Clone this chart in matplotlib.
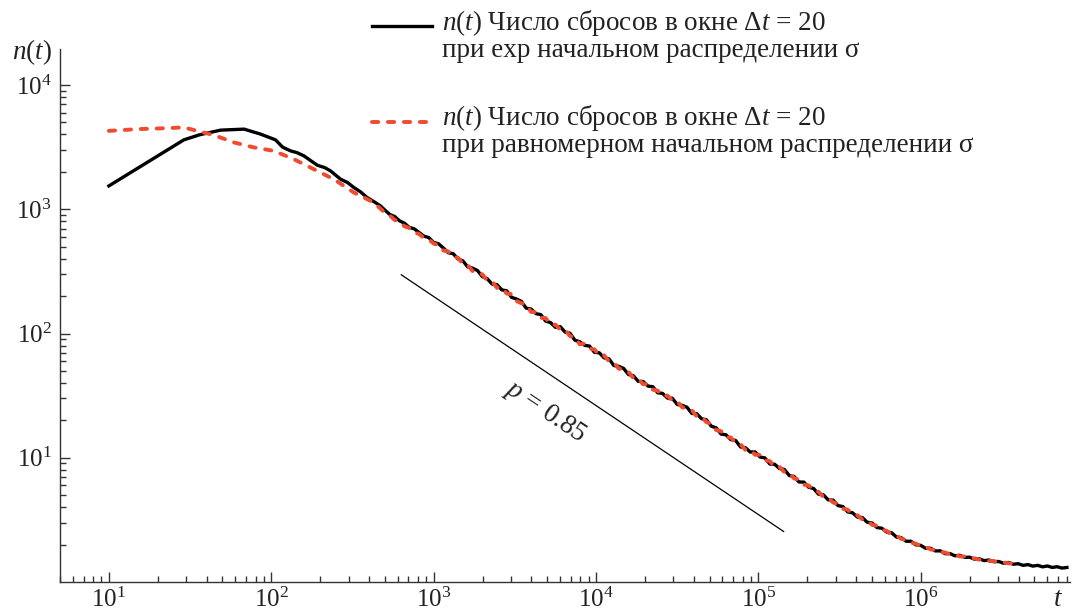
import numpy as np
import matplotlib
matplotlib.use("Agg")
from matplotlib import pyplot as plt
from matplotlib.lines import Line2D
from matplotlib.ticker import FixedLocator, LogLocator, NullFormatter

plt.rcParams['font.family'] = ['Liberation Serif', 'DejaVu Serif']
plt.rcParams['mathtext.fontset'] = 'custom'
plt.rcParams['mathtext.rm'] = 'Liberation Serif'
plt.rcParams['mathtext.it'] = 'Liberation Serif:italic'

FIG_W, FIG_H = 1074, 613
RED = "#EF4B2F"
INK = "#222222"

# log10 t / log10 n(t), early (smooth) part of each run
log_t_black_head = [1.000, 1.462, 1.560, 1.688, 1.833, 1.934, 2.026, 2.070, 2.119, 2.160,
                    2.201, 2.283, 2.330, 2.365, 2.427, 2.470, 2.509, 2.550, 2.591, 2.640, 2.673]
log_n_black_head = [3.188, 3.559, 3.600, 3.637, 3.645, 3.605, 3.559, 3.500, 3.470, 3.455,
                    3.430, 3.355, 3.335, 3.309, 3.242, 3.215, 3.175, 3.140, 3.094, 3.055, 3.027]

log_t_red_head = [1.000, 1.175, 1.360, 1.462, 1.544, 1.647, 1.770, 1.893, 2.016, 2.139,
                  2.242, 2.385, 2.509, 2.632]
log_n_red_head = [3.631, 3.645, 3.653, 3.659, 3.631, 3.597, 3.538, 3.498, 3.470, 3.403,
                  3.336, 3.242, 3.135, 3.054]

# noisy tail, common time grid
log_t_tail = [2.70, 2.73, 2.76, 2.79, 2.82, 2.85, 2.88, 2.91, 2.94, 2.97,
              3.00, 3.03, 3.06, 3.09, 3.12, 3.15, 3.18, 3.21, 3.24, 3.27,
              3.30, 3.33, 3.36, 3.39, 3.42, 3.45, 3.48, 3.51, 3.54, 3.57,
              3.60, 3.63, 3.66, 3.69, 3.72, 3.75, 3.78, 3.81, 3.84, 3.87,
              3.90, 3.93, 3.96, 3.99, 4.02, 4.05, 4.08, 4.11, 4.14, 4.17,
              4.20, 4.23, 4.26, 4.29, 4.32, 4.35, 4.38, 4.41, 4.44, 4.47,
              4.50, 4.53, 4.56, 4.59, 4.62, 4.65, 4.68, 4.71, 4.74, 4.77,
              4.80, 4.83, 4.86, 4.89, 4.92, 4.95, 4.98, 5.01, 5.04, 5.07,
              5.10, 5.13, 5.16, 5.19, 5.22, 5.25, 5.28, 5.31, 5.34, 5.37,
              5.40, 5.43, 5.46, 5.49, 5.52, 5.55, 5.58, 5.61, 5.64, 5.67,
              5.70, 5.73, 5.76, 5.79, 5.82, 5.85, 5.88, 5.91, 5.94, 5.97,
              6.00, 6.03, 6.06, 6.09, 6.12, 6.15, 6.18, 6.21, 6.24, 6.27,
              6.30, 6.33, 6.36, 6.39, 6.42, 6.45, 6.48, 6.51, 6.54, 6.57,
              6.60, 6.63, 6.66, 6.69, 6.72, 6.75, 6.78, 6.81, 6.84, 6.87,
              6.90]

log_n_black_tail = [2.993, 2.958, 2.942, 2.907, 2.888, 2.854, 2.843, 2.813, 2.784, 2.772,
                    2.733, 2.723, 2.688, 2.650, 2.643, 2.600, 2.585, 2.536, 2.526, 2.507,
                    2.458, 2.441, 2.398, 2.393, 2.351, 2.344, 2.291, 2.278, 2.259, 2.204,
                    2.197, 2.160, 2.152, 2.100, 2.088, 2.050, 2.055, 2.011, 2.002, 1.946,
                    1.934, 1.905, 1.899, 1.849, 1.845, 1.804, 1.796, 1.742, 1.736, 1.719,
                    1.670, 1.660, 1.615, 1.614, 1.577, 1.572, 1.523, 1.518, 1.480, 1.479,
                    1.429, 1.422, 1.407, 1.357, 1.355, 1.314, 1.306, 1.254, 1.241, 1.191,
                    1.185, 1.146, 1.139, 1.087, 1.081, 1.046, 1.047, 1.006, 0.999, 0.950,
                    0.948, 0.913, 0.906, 0.857, 0.849, 0.805, 0.804, 0.762, 0.753, 0.707,
                    0.702, 0.661, 0.659, 0.615, 0.607, 0.564, 0.557, 0.522, 0.519, 0.481,
                    0.475, 0.438, 0.433, 0.402, 0.397, 0.362, 0.356, 0.328, 0.328, 0.299,
                    0.295, 0.271, 0.272, 0.250, 0.251, 0.228, 0.229, 0.211, 0.215, 0.198,
                    0.200, 0.184, 0.187, 0.172, 0.177, 0.163, 0.165, 0.151, 0.157, 0.143,
                    0.147, 0.134, 0.140, 0.128, 0.134, 0.122, 0.129, 0.117, 0.123, 0.112,
                    0.117]

log_n_red_tail = [2.972, 2.950, 2.914, 2.898, 2.864, 2.849, 2.814, 2.801, 2.769, 2.758,
                  2.724, 2.711, 2.668, 2.661, 2.617, 2.610, 2.560, 2.551, 2.503, 2.496,
                  2.476, 2.427, 2.420, 2.368, 2.369, 2.322, 2.317, 2.262, 2.244, 2.232,
                  2.174, 2.172, 2.126, 2.124, 2.073, 2.071, 2.032, 2.031, 1.979, 1.968,
                  1.913, 1.919, 1.878, 1.873, 1.823, 1.824, 1.776, 1.767, 1.717, 1.713,
                  1.692, 1.641, 1.638, 1.592, 1.594, 1.548, 1.540, 1.497, 1.500, 1.460,
                  1.455, 1.407, 1.392, 1.383, 1.333, 1.331, 1.286, 1.275, 1.223, 1.214,
                  1.164, 1.163, 1.118, 1.109, 1.064, 1.063, 1.024, 1.024, 0.980, 0.973,
                  0.928, 0.926, 0.885, 0.879, 0.833, 0.826, 0.783, 0.777, 0.735, 0.726,
                  0.685, 0.679, 0.640, 0.629, 0.589, 0.582, 0.544, 0.537, 0.503, 0.494,
                  0.460, 0.453, 0.421, 0.412, 0.382, 0.375, 0.347, 0.340, 0.315, 0.309,
                  0.286, 0.282, 0.262, 0.258, 0.240, 0.238, 0.221, 0.219, 0.206, 0.205,
                  0.192, 0.191, 0.180, 0.179, 0.169, 0.169, 0.159, 0.158, 0.150, 0.149]

# reference power law, p = 0.85
ref_t = [632, 1.43e5]
ref_n = [297, 2.55]

x_major = [1e1, 1e2, 1e3, 1e4, 1e5, 1e6]
y_major = [1e1, 1e2, 1e3, 1e4]

legend_labels = [
    "$n(t)$ Число сбросов в окне $\\Delta t$ = 20\nпри exp начальном распределении σ",
    "$n(t)$ Число сбросов в окне $\\Delta t$ = 20\nпри равномерном начальном распределении σ",
]

t_black = 10 ** np.array(log_t_black_head + log_t_tail)
n_black = 10 ** np.array(log_n_black_head + log_n_black_tail)
t_red = 10 ** np.array(log_t_red_head + log_t_tail[:len(log_n_red_tail)])
n_red = 10 ** np.array(log_n_red_head + log_n_red_tail)


def fx(px):
    return px / FIG_W


def fy(py):
    return 1 - py / FIG_H


fig = plt.figure(figsize=(FIG_W / 100, FIG_H / 100), dpi=100)
ax = fig.add_axes([fx(60), fy(582), fx(1070) - fx(60), fy(49) - fy(582)])

ax.plot(t_black, n_black, color="black", lw=2.4, solid_joinstyle="round")
ax.plot(t_red, n_red, color=RED, lw=2.8, dashes=(1.6, 2.5), dash_capstyle="round")
ax.plot(ref_t, ref_n, color="black", lw=0.9)
ax.text(4890, 23.5, r"$p$ = 0.85", rotation=-33.8, ha="center", va="center",
        fontsize=19.5, color=INK)

ax.set_xscale("log")
ax.set_yscale("log")
ax.set_xlim(5, 8.3e6)
ax.set_ylim(1, 1.95e4)

ax.xaxis.set_major_locator(FixedLocator(x_major))
ax.yaxis.set_major_locator(FixedLocator(y_major))
for axis in (ax.xaxis, ax.yaxis):
    axis.set_minor_locator(LogLocator(base=10, subs=np.arange(2, 10), numticks=30))
    axis.set_minor_formatter(NullFormatter())
ax.xaxis.set_major_formatter(lambda v, pos: r"$10^{%d}$" % round(np.log10(v)))
ax.yaxis.set_major_formatter(lambda v, pos: r"$10^{%d}$" % round(np.log10(v)))

ax.tick_params(which="both", direction="in", color="#333333", labelcolor=INK, width=1.0)
ax.tick_params(which="major", length=7, labelsize=18)
ax.tick_params(which="minor", length=4.3)
ax.tick_params(axis="x", pad=4)
ax.tick_params(axis="y", pad=6)

for side in ("top", "right"):
    ax.spines[side].set_visible(False)
for side in ("left", "bottom"):
    ax.spines[side].set_color("#333333")
    ax.spines[side].set_linewidth(1.0)

fig.text(fx(32), fy(52), r"$n(t)$", ha="center", va="center", fontsize=19.5, color=INK)
fig.text(fx(1058), fy(599), r"$t$", ha="center", va="center", fontsize=19.5, color=INK)

# legend, drawn by hand so the swatch sits on the first text line;
# va="baseline" on a two-line text pins the baseline of the second line
LEG_SIZE = 19.5
fig.add_artist(Line2D([fx(372), fx(432)], [fy(26), fy(26)], transform=fig.transFigure,
                      color="black", lw=2.4))
fig.add_artist(Line2D([fx(372), fx(432)], [fy(122), fy(122)], transform=fig.transFigure,
                      color=RED, lw=2.8, dashes=(1.6, 2.5), dash_capstyle="round"))
fig.text(fx(442), fy(57), legend_labels[0], va="baseline", linespacing=1.0,
         fontsize=LEG_SIZE, color=INK)
fig.text(fx(442), fy(152), legend_labels[1], va="baseline", linespacing=1.0,
         fontsize=LEG_SIZE, color=INK)

plt.savefig("out.png", dpi=100)
plt.close()
